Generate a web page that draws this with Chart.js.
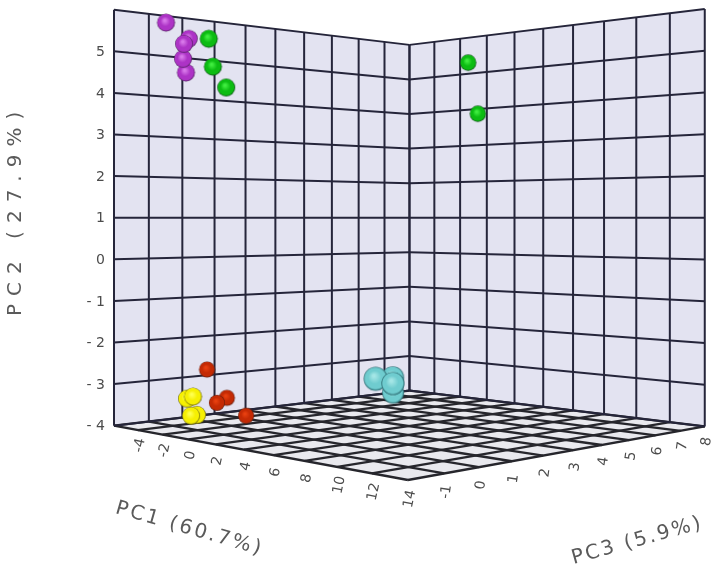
<!DOCTYPE html>
<html>
<head>
<meta charset="utf-8">
<style>
    html, body { margin: 0; background: #fff; }
    canvas { display: block; filter: blur(0.5px); }
</style>
<script src="https://cdn.jsdelivr.net/npm/chart.js@4"></script>
</head>
<body>
<canvas id="chart" width="716" height="574"></canvas>
<script>
// grid lines of the box, the end values carry no label
const pc1Grid = [-6, -4, -2, 0, 2, 4, 6, 8, 10, 12, 14]
const pc2Grid = [-4, -3, -2, -1, 0, 1, 2, 3, 4, 5, 6]
const pc3Grid = [-2, -1, 0, 1, 2, 3, 4, 5, 6, 7, 8]

const pc1Ticks = [-4, -2, 0, 2, 4, 6, 8, 10, 12, 14]
const pc2Ticks = [-4, -3, -2, -1, 0, 1, 2, 3, 4, 5]
const pc3Ticks = [-1, 0, 1, 2, 3, 4, 5, 6, 7, 8]

// scores, last value of each array is drawn on top
const purplePC1 = [-4.25, -4.60, -3.58, -3.68, -3.65]
const purplePC2 = [5.69, 5.39, 4.49, 4.82, 5.18]
const purplePC3 = [-1.11, -0.31, -0.77, -0.82, -0.80]

const greenPC1 = [-2.81, -2.67, -2.23, 1.22, 1.58]
const greenPC2 = [5.30, 4.63, 4.13, 5.10, 3.75]
const greenPC3 = [-0.38, -0.31, -0.08, 6.59, 6.77]

const redPC1 = [-2.87, -2.20, -2.54, -1.56]
const redPC2 = [-2.65, -3.33, -3.45, -3.76]
const redPC3 = [-0.41, -0.07, -0.24, 0.26]

const yellowPC1 = [-3.21, -3.41, -3.55, -3.34]
const yellowPC2 = [-3.74, -3.76, -3.35, -3.30]
const yellowPC3 = [-0.58, -0.68, -0.75, -0.65]

const cyanPC1 = [8.3, 6.84, 10.3, 9.3]
const cyanPC2 = [-2.46, -2.91, -2.29, -2.51]
const cyanPC3 = [0.37, 1.09, -1.09, -0.11]


// camera, worked out from the four corners of the box
function project(pc1, pc2, pc3) {
    const u = (pc1 + 6) / 20
    const v = (pc3 + 2) / 10
    const w = 1 - 0.207 * u + 0.2035 * v
    return {
        x: (209.5 * u + 378.8 * v + 114) / w,
        y: 217.7 - (pc2 - 1) * 41.6 / w,
        w
    }
}


function makeSphere(radius, light, base, edge) {
    const size = Math.ceil(radius * 2 + 2)
    const sprite = document.createElement('canvas')
    sprite.width = size
    sprite.height = size
    const ctx = sprite.getContext('2d')
    const mid = size / 2
    const gradient = ctx.createRadialGradient(mid - radius * 0.15, mid - radius * 0.25, radius * 0.1, mid, mid, radius)
    gradient.addColorStop(0, light)
    gradient.addColorStop(0.5, base)
    gradient.addColorStop(0.84, base)
    gradient.addColorStop(1, edge)
    ctx.fillStyle = gradient
    ctx.beginPath()
    ctx.arc(mid, mid, radius, 0, Math.PI * 2)
    ctx.fill()
    return sprite
}


function sphereDataset(label, pc1, pc2, pc3, size, colors) {
    const points = pc1.map((value, i) => project(value, pc2[i], pc3[i]))
    const radii = points.map(point => size / point.w)
    return {
        label,
        data: points.map(point => ({ x: point.x, y: point.y })),
        pointRadius: radii,
        pointStyle: radii.map(radius => makeSphere(radius, colors[0], colors[1], colors[2]))
    }
}


function lineDataset(from, to, width, color) {
    const start = project(from[0], from[1], from[2])
    const end = project(to[0], to[1], to[2])
    return {
        data: [{ x: start.x, y: start.y }, { x: end.x, y: end.y }],
        showLine: true,
        pointRadius: 0,
        borderWidth: width,
        borderColor: color
    }
}


function shapeDataset(corners, color) {
    const points = corners.map(corner => project(corner[0], corner[1], corner[2]))
    return {
        data: points.map(point => ({ x: point.x, y: point.y })),
        showLine: true,
        pointRadius: 0,
        borderWidth: 0,
        backgroundColor: color,
        fill: 'shape'
    }
}


function gridDatasets() {
    const lines = []
    const wallColor = '#25253a'
    const floorColor = '#26262c'

    pc3Grid.forEach(pc3 => lines.push(lineDataset([-6, -4, pc3], [-6, 6, pc3], 2, wallColor)))
    pc1Grid.forEach(pc1 => lines.push(lineDataset([pc1, -4, 8], [pc1, 6, 8], 2, wallColor)))
    pc2Grid.forEach(pc2 => {
        lines.push(lineDataset([-6, pc2, -2], [-6, pc2, 8], 2, wallColor))
        lines.push(lineDataset([-6, pc2, 8], [14, pc2, 8], 2, wallColor))
    })
    pc1Grid.forEach(pc1 => lines.push(lineDataset([pc1, -4, -2], [pc1, -4, 8], 2.3, floorColor)))
    pc3Grid.forEach(pc3 => lines.push(lineDataset([-6, -4, pc3], [14, -4, pc3], 2.3, floorColor)))

    return lines
}


const datasets = [
    sphereDataset('purple', purplePC1, purplePC2, purplePC3, 9, ['#d878ea', '#ad33c6', '#4d1f5c']),
    sphereDataset('green', greenPC1, greenPC2, greenPC3, 9, ['#40ee40', '#0cbc12', '#0c4a14']),
    sphereDataset('red', redPC1, redPC2, redPC3, 8, ['#e84010', '#c42a04', '#5a1a0c']),
    sphereDataset('yellow', yellowPC1, yellowPC2, yellowPC3, 9, ['#ffff50', '#f6f002', '#5e5a10']),
    sphereDataset('cyan', cyanPC1, cyanPC2, cyanPC3, 10.2, ['#a4e6e6', '#6fcccf', '#27656c']),
    ...gridDatasets(),
    shapeDataset([[-6, -4, -2], [14, -4, -2], [14, -4, 8], [-6, -4, 8]], '#e9e9ee'),
    shapeDataset([[-6, -4, -2], [-6, 6, -2], [-6, 6, 8], [-6, -4, 8]], '#e3e3f1'),
    shapeDataset([[-6, -4, 8], [-6, 6, 8], [14, 6, 8], [14, -4, 8]], '#e3e3f1')
]


function drawText(ctx, text, x, y, angle, font, spacing) {
    ctx.save()
    ctx.translate(x, y)
    ctx.rotate(angle * Math.PI / 180)
    ctx.font = font
    ctx.letterSpacing = spacing
    ctx.fillText(text, 0, 0)
    ctx.restore()
}


const axisLabels = {
    id: 'axisLabels',
    afterDraw(chart) {
        const { ctx, scales } = chart
        const toPixel = point => ({ x: scales.x.getPixelForValue(point.x), y: scales.y.getPixelForValue(point.y) })
        ctx.save()
        ctx.fillStyle = '#4c4c4c'
        ctx.textBaseline = 'middle'

        ctx.textAlign = 'right'
        pc2Ticks.forEach(tick => {
            const spot = toPixel(project(-6, tick, -2))
            drawText(ctx, String(tick).replace('-', '- '), spot.x - 9, spot.y + 1, 0, '14px "DejaVu Sans"', '0px')
        })

        ctx.textAlign = 'center'
        pc1Ticks.forEach(tick => {
            const point = project(tick, -4, -2)
            const spot = toPixel(point)
            drawText(ctx, String(tick), spot.x + 2, spot.y + 15 / point.w, -78, '14px "DejaVu Sans"', '0px')
        })
        pc3Ticks.forEach(tick => {
            const point = project(14, -4, tick)
            const spot = toPixel(point)
            drawText(ctx, String(tick), spot.x + 2, spot.y + 15 / point.w, -82, '14px "DejaVu Sans"', '0px')
        })

        ctx.textAlign = 'left'
        ctx.fillStyle = '#5a5a5a'
        drawText(ctx, 'PC1 (60.7%)', 116, 508, 16, '20px "DejaVu Sans"', '2.6px')
        drawText(ctx, 'PC3 (5.9%)', 572, 559, -15.5, '20px "DejaVu Sans"', '2.4px')
        drawText(ctx, 'PC2 (27.9%)', 16, 316, -90, '20px "DejaVu Sans"', '8px')
        ctx.restore()
    }
}


new Chart('chart', {
    type: 'scatter',
    data: { datasets },
    options: {
        responsive: false,
        animation: false,
        layout: { padding: 0, autoPadding: false },
        plugins: {
            legend: { display: false },
            tooltip: { enabled: false }
        },
        scales: {
            x: { type: 'linear', min: 0, max: 716, display: false },
            y: { type: 'linear', min: 0, max: 574, reverse: true, display: false }
        }
    },
    plugins: [axisLabels]
})
</script>
</body>
</html>
